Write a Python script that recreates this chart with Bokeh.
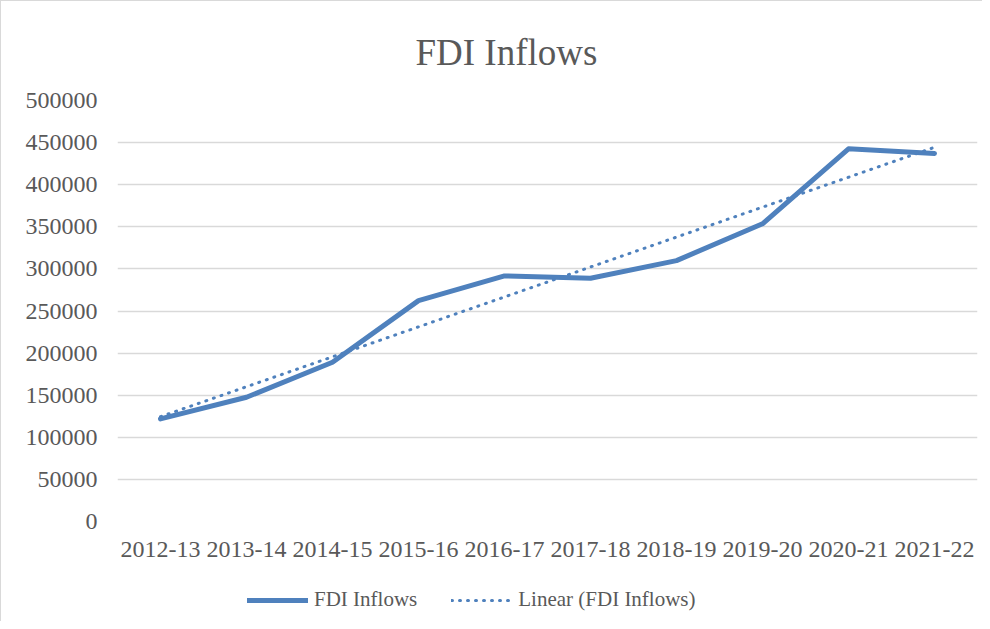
import numpy as np
from bokeh.plotting import figure
from bokeh.layouts import column
from bokeh.models import (FixedTicker, BasicTickFormatter, Legend, LegendItem,
                          Range1d, FactorRange)
from bokeh.embed import file_html
from bokeh.resources import INLINE

# ---- data ----
years = ["2012-13", "2013-14", "2014-15", "2015-16", "2016-17",
         "2017-18", "2018-19", "2019-20", "2020-21", "2021-22"]
fdi = [121907, 147518, 189107, 262322, 291696, 288889, 309867, 353558, 442569, 437188]
y_ticks = [0, 50000, 100000, 150000, 200000, 250000, 300000, 350000, 400000, 450000, 500000]
chart_title = "FDI Inflows"
series_name = "FDI Inflows"
trend_name = "Linear (FDI Inflows)"

# linear trendline (least squares over the series, like Excel's "Linear" trendline)
idx = np.arange(len(fdi))
slope, intercept = np.polyfit(idx, fdi, 1)
trend = list(slope * idx + intercept)

FONT = "Liberation Serif"
TXT = "#595959"
BLUE = "#4F81BD"
W = 981
H_MAIN, H_LEG = 574, 46

xr = FactorRange(*years)
yr = Range1d(0, 500000)

p = figure(width=W, height=H_MAIN, x_range=xr, y_range=yr,
           output_backend="svg", toolbar_location=None,
           min_border_left=116, min_border_right=5,
           min_border_top=99, min_border_bottom=54)

p.line(years, fdi, line_width=5, line_color=BLUE,
       line_join="round", line_cap="round")
p.line(years, trend, line_width=3, line_color=BLUE,
       line_dash="1 7", line_cap="round")

p.outline_line_color = None
p.xgrid.grid_line_color = None
p.ygrid.ticker = FixedTicker(ticks=y_ticks)
p.ygrid.grid_line_color = "#D9D9D9"
p.ygrid.grid_line_width = 1.3

for ax in (p.xaxis[0], p.yaxis[0]):
    ax.axis_line_color = None
    ax.major_tick_line_color = None
    ax.minor_tick_line_color = None
    ax.major_label_text_font = FONT
    ax.major_label_text_font_size = "24px"
    ax.major_label_text_color = TXT

p.yaxis[0].ticker = FixedTicker(ticks=y_ticks)
p.yaxis[0].formatter = BasicTickFormatter(use_scientific=False)
p.yaxis[0].major_label_standoff = 14
p.xaxis[0].major_label_standoff = 14

p.title.text = chart_title
p.title.align = "left"
p.title.offset = 298
p.title.text_font = FONT
p.title.text_font_size = "37px"
p.title.text_font_style = "normal"
p.title.text_color = TXT
p.title.standoff = 56

# ---- legend strip (separate small figure below the chart, same scales) ----
pl = figure(width=W, height=H_LEG, x_range=xr, y_range=yr,
            output_backend="svg", toolbar_location=None,
            x_axis_type=None, y_axis_type=None,
            min_border_left=0, min_border_right=0,
            min_border_top=0, min_border_bottom=0)
pl.outline_line_color = None
pl.grid.visible = False
lr1 = pl.line(years, fdi, line_width=5, line_color=BLUE,
              line_join="round", line_cap="round", visible=False)
lr2 = pl.line(years, trend, line_width=3, line_color=BLUE,
              line_dash="1 7", line_cap="round", visible=False)

legend = Legend(items=[LegendItem(label=series_name, renderers=[lr1]),
                       LegendItem(label=trend_name, renderers=[lr2])],
                orientation="horizontal", location=(130, 9),
                glyph_width=61, glyph_height=20, label_height=20,
                label_text_font=FONT, label_text_font_size="21px",
                label_text_color=TXT, label_standoff=6, spacing=34,
                padding=0, margin=0, border_line_color=None,
                background_fill_alpha=0)
pl.add_layout(legend)

layout = column(p, pl, spacing=0,
                styles={"border-left": "1px solid #D9D9D9",
                        "border-top": "1px solid #D9D9D9"})
open("out.html", "w").write(file_html(layout, INLINE))
